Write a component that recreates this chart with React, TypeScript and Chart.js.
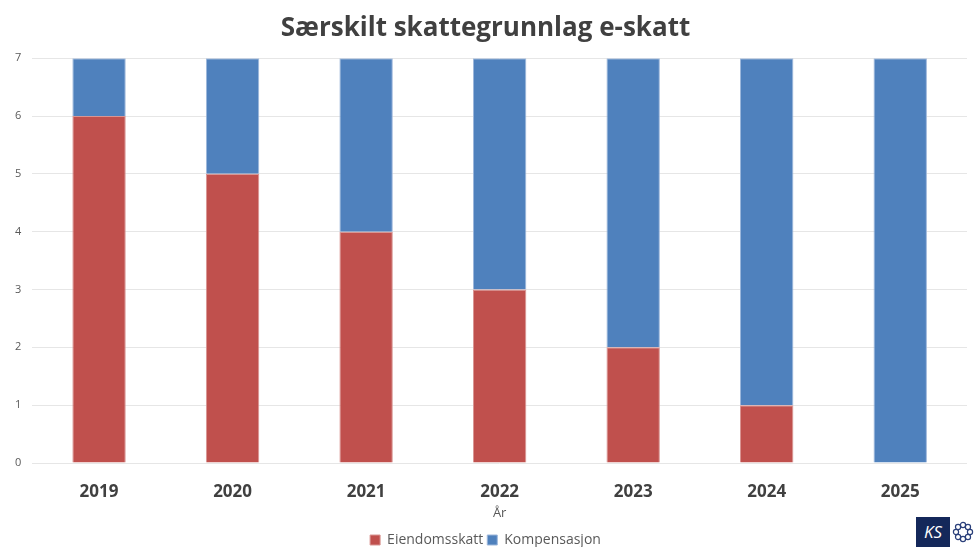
import React, { useEffect, useRef } from "react";
import { Chart, registerables } from "chart.js";

Chart.register(...registerables);

const categories = ["2019", "2020", "2021", "2022", "2023", "2024", "2025"];
const eiendomsskatt = [6, 5, 4, 3, 2, 1, 0];
const kompensasjon = [1, 2, 3, 4, 5, 6, 7];
const yTicks = [0, 1, 2, 3, 4, 5, 6, 7];

const FONT = "'Open Sans', 'Noto Sans', sans-serif";

export default function App() {
  const ref = useRef<HTMLCanvasElement | null>(null);

  useEffect(() => {
    if (!ref.current) return;
    const chart = new Chart(ref.current, {
      type: "bar",
      data: {
        labels: categories,
        datasets: [
          {
            label: "Eiendomsskatt",
            data: eiendomsskatt,
            backgroundColor: "#C0504D",
            borderColor: "#D99593",
            borderWidth: 1,
            categoryPercentage: 1,
            barPercentage: 0.4,
          },
          {
            label: "Kompensasjon",
            data: kompensasjon,
            backgroundColor: "#4F81BD",
            borderColor: "#9DB7DB",
            borderWidth: 1,
            categoryPercentage: 1,
            barPercentage: 0.4,
          },
        ],
      },
      options: {
        animation: false,
        responsive: false,
        layout: { padding: { left: 4, right: 8, top: 0, bottom: -10 } },
        plugins: {
          title: {
            display: true,
            text: "Særskilt skattegrunnlag e-skatt",
            color: "#404040",
            font: { family: FONT, size: 26, weight: "bold" },
            padding: { top: 13, bottom: 14 },
          },
          legend: {
            position: "bottom",
            labels: {
              boxWidth: 10,
              boxHeight: 10,
              color: "#595959",
              font: { family: FONT, size: 14 },
              padding: 4,
            },
          },
          tooltip: { enabled: false },
        },
        scales: {
          x: {
            stacked: true,
            grid: { display: false },
            border: { display: false },
            ticks: {
              color: "#404040",
              font: { family: FONT, size: 17, weight: "bold" },
              padding: 11,
            },
            title: {
              display: true,
              text: "År",
              color: "#595959",
              font: { family: FONT, size: 13 },
              padding: { top: -8, bottom: 8 },
            },
          },
          y: {
            stacked: true,
            min: 0,
            max: 7,
            afterBuildTicks: (axis: any) => {
              axis.ticks = yTicks.map((v) => ({ value: v }));
            },
            grid: { color: "#E6E6E6", drawTicks: false, lineWidth: 1 },
            border: { display: false },
            ticks: {
              color: "#595959",
              font: { family: FONT, size: 11 },
              padding: 11,
            },
          },
        },
      },
    });
    return () => chart.destroy();
  }, []);

  return (
    <div style={{ position: "fixed", left: 0, top: 0, width: 975, height: 547, background: "#fff", overflow: "hidden" }}>
      <canvas ref={ref} width={975} height={547} style={{ display: "block" }} />
      <div
        style={{
          position: "absolute",
          left: 916,
          top: 517,
          width: 34,
          height: 30,
          background: "#14285A",
          color: "#fff",
          fontFamily: FONT,
          fontStyle: "italic",
          fontSize: 17,
          lineHeight: "30px",
          textAlign: "center",
        }}
      >
        KS
      </div>
      <svg style={{ position: "absolute", left: 952, top: 519 }} width={23} height={26}>
        {[0, 1, 2, 3, 4, 5, 6, 7].map((i) => {
          const a = (i / 8) * Math.PI * 2;
          return (
            <circle
              key={i}
              cx={11 + Math.cos(a) * 7}
              cy={13 + Math.sin(a) * 7}
              r={2.6}
              fill="none"
              stroke="#2A3F7A"
              strokeWidth={1.2}
            />
          );
        })}
      </svg>
    </div>
  );
}
